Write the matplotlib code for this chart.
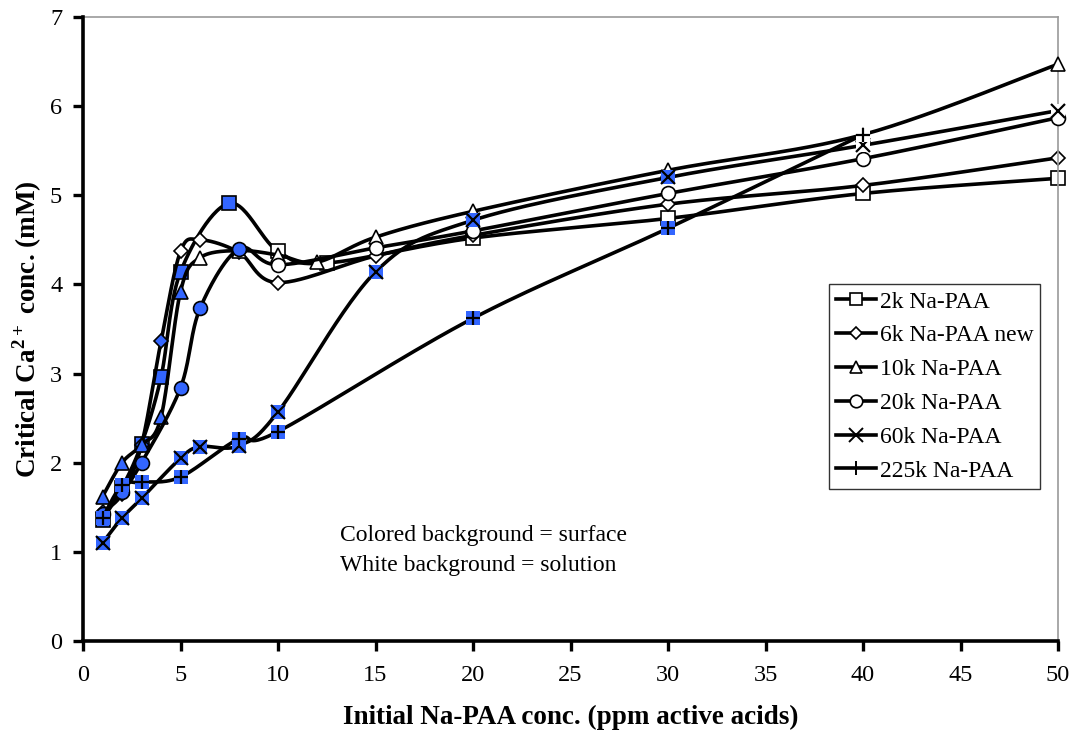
import numpy as np
import matplotlib
matplotlib.use("Agg")
import matplotlib.pyplot as plt
from matplotlib.lines import Line2D

plt.rcParams['font.family'] = ['Liberation Serif', 'DejaVu Serif']
plt.rcParams['mathtext.fontset'] = 'custom'
plt.rcParams['mathtext.rm'] = 'Liberation Serif'
plt.rcParams['mathtext.bf'] = 'Liberation Serif:bold'

BLUE = '#3366ff'

# ---- data (x in ppm, y in mM); 'surf' = number of leading points measured at surface (blue)
x_2k = [1, 2, 3, 4, 5, 7.5, 10, 12.5, 20, 30, 40, 50]
y_2k = [1.36, 1.72, 2.21, 2.96, 4.14, 4.91, 4.37, 4.24, 4.52, 4.74, 5.02, 5.19]
surf_2k = 6

x_6k = [1, 2, 3, 4, 5, 6, 8, 10, 15, 20, 30, 40, 50]
y_6k = [1.45, 1.65, 2.2, 3.36, 4.37, 4.5, 4.36, 4.02, 4.32, 4.55, 4.9, 5.11, 5.42]
surf_6k = 4

x_10k = [1, 2, 3, 4, 5, 6, 8, 10, 12, 15, 20, 30, 40, 50]
y_10k = [1.62, 2.0, 2.2, 2.51, 3.92, 4.3, 4.38, 4.33, 4.25, 4.53, 4.82, 5.28, 5.68, 6.47]
surf_10k = 5

x_20k = [1, 2, 3, 5, 6, 8, 10, 15, 20, 30, 40, 50]
y_20k = [1.43, 1.67, 2.0, 2.84, 3.73, 4.4, 4.22, 4.41, 4.6, 5.02, 5.41, 5.87]
surf_20k = 6

x_60k = [1, 2, 3, 5, 6, 8, 10, 15, 20, 30, 40, 50]
y_60k = [1.1, 1.38, 1.6, 2.05, 2.18, 2.19, 2.57, 4.14, 4.72, 5.2, 5.56, 5.95]
surf_60k = 10

x_225k = [1, 2, 3, 5, 8, 10, 20, 30, 40]
y_225k = [1.38, 1.75, 1.78, 1.84, 2.27, 2.35, 3.62, 4.63, 5.68]
surf_225k = 8

labels = ['2k Na-PAA', '6k Na-PAA new', '10k Na-PAA', '20k Na-PAA', '60k Na-PAA', '225k Na-PAA']
markers = ['s', 'D', '^', 'o', 'x', '+']
msizes = [10, 7, 10, 10, 10, 10]

series = [(x_2k, y_2k, surf_2k), (x_6k, y_6k, surf_6k), (x_10k, y_10k, surf_10k),
          (x_20k, y_20k, surf_20k), (x_60k, y_60k, surf_60k), (x_225k, y_225k, surf_225k)]


def smooth(xs, ys, n=30):
    """Excel-style smoothed line (Catmull-Rom Bezier) through the data points."""
    P = np.column_stack([xs, ys]).astype(float)
    out = [P[0]]
    m = len(P)
    t = np.linspace(0, 1, n)[1:]
    for i in range(m - 1):
        p0 = P[i - 1] if i > 0 else P[i]
        p1, p2 = P[i], P[i + 1]
        p3 = P[i + 2] if i + 2 < m else P[i + 1]
        c1 = p1 + (p2 - p0) / 6
        c2 = p2 - (p3 - p1) / 6
        for tt in t:
            b = ((1 - tt) ** 3) * p1 + 3 * ((1 - tt) ** 2) * tt * c1 + 3 * (1 - tt) * tt ** 2 * c2 + tt ** 3 * p2
            out.append(b)
    out = np.array(out)
    return out[:, 0], out[:, 1]


fig = plt.figure(figsize=(10.78, 7.36), dpi=100)
ax = fig.add_axes([0.077, 0.129, 0.9045, 0.848])

z = 2
for (xs, ys, ns), mk, ms in zip(series, markers, msizes):
    sx, sy = smooth(xs, ys)
    ax.plot(sx, sy, color='black', lw=2.6, zorder=z, solid_capstyle='round')
    z += 0.1
    for i, (xv, yv) in enumerate(zip(xs, ys)):
        fc = BLUE if i < ns else 'white'
        if mk in ('x', '+'):
            ax.plot([xv], [yv], marker='s', ms=ms, mfc=fc, mec=fc, mew=0, ls='none', zorder=z, clip_on=False)
            ax.plot([xv], [yv], marker=mk, ms=ms, mec='black', mew=1.6, ls='none', zorder=z + 0.01, clip_on=False)
        else:
            ax.plot([xv], [yv], marker=mk, ms=ms, mfc=fc, mec='black', mew=1.2, ls='none', zorder=z, clip_on=False)
    z += 0.1

ax.set_xlim(0, 50)
ax.set_ylim(0, 7)
ax.set_xticks(np.arange(0, 51, 5))
ax.set_yticks(np.arange(0, 8, 1))
ax.tick_params(axis='both', direction='out', length=7, width=2.4, labelsize=17.5)
ax.tick_params(axis='x', pad=10)
ax.tick_params(axis='y', pad=8)
ax.tick_params(top=False, right=False)
for s in ['left', 'bottom']:
    ax.spines[s].set_linewidth(2.6)
    ax.spines[s].set_color('black')
for s in ['top', 'right']:
    ax.spines[s].set_linewidth(1.2)
    ax.spines[s].set_color('#999999')
ax.spines['left'].set_zorder(10)
ax.spines['bottom'].set_zorder(10)

ax.set_xlabel('Initial Na-PAA conc. (ppm active acids)', fontsize=19.5, fontweight='bold', labelpad=14)
ax.set_ylabel(r'Critical Ca$^{\mathbf{2+}}$ conc. (mM)', fontsize=19.5, fontweight='bold', labelpad=4)

ax.text(13.2, 1.18, 'Colored background = surface', fontsize=17, va='center', ha='left')
ax.text(13.2, 0.85, 'White background = solution', fontsize=17, va='center', ha='left')

handles = []
for mk, ms in zip(markers, msizes):
    if mk in ('x', '+'):
        h = Line2D([], [], color='black', lw=2.6, marker=mk, ms=ms, mec='black', mew=1.4)
    else:
        h = Line2D([], [], color='black', lw=2.6, marker=mk, ms=ms - 1, mfc='white', mec='black', mew=1.2)
    handles.append(h)
leg = ax.legend(handles, labels, loc='upper left', bbox_to_anchor=(0.765, 0.572),
                fontsize=17, frameon=True, fancybox=False, edgecolor='black',
                borderpad=0.3, labelspacing=0.52, handlelength=1.7, handletextpad=0.15,
                borderaxespad=0)
leg.get_frame().set_linewidth(1.0)
leg.set_zorder(20)

fig.savefig('out.png', dpi=100)
